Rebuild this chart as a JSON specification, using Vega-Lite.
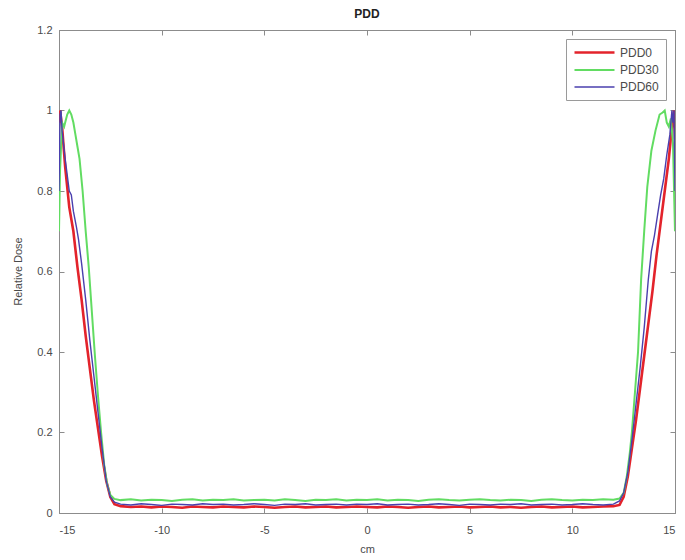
{
  "$schema": "https://vega.github.io/schema/vega-lite/v6.json",
  "width": 616,
  "height": 483,
  "autosize": {"type": "none"},
  "padding": {"left": 59, "top": 30, "right": 10, "bottom": 47},
  "background": "white",
  "title": {"text": "PDD", "fontSize": 12, "fontWeight": "bold", "font": "Liberation Sans", "color": "#222222", "offset": 3},
  "config": {
    "view": {"stroke": "#8c8c8c"},
    "axis": {
      "grid": false,
      "domainColor": "#8c8c8c",
      "tickColor": "#8c8c8c",
      "tickSize": -5,
      "labelFont": "Liberation Sans",
      "labelFontSize": 11,
      "labelColor": "#4a4a4a",
      "titleFont": "Liberation Sans",
      "titleFontSize": 11,
      "titleFontWeight": "normal",
      "titleColor": "#4a4a4a"
    },
    "legend": {
      "labelFont": "Liberation Sans",
      "labelFontSize": 12,
      "labelColor": "#4a4a4a"
    }
  },
  "datasets": {
    "pdd": [
      {"x": -15, "v": 0.97, "s": "PDD0"}, {"x": -14.95, "v": 1.0, "s": "PDD0"}, {"x": -14.85, "v": 0.96, "s": "PDD0"}, {"x": -14.7, "v": 0.86, "s": "PDD0"}, {"x": -14.5, "v": 0.76, "s": "PDD0"}, {"x": -14.3, "v": 0.70, "s": "PDD0"}, {"x": -14.1, "v": 0.61, "s": "PDD0"}, {"x": -13.9, "v": 0.53, "s": "PDD0"}, {"x": -13.7, "v": 0.44, "s": "PDD0"}, {"x": -13.5, "v": 0.36, "s": "PDD0"}, {"x": -13.3, "v": 0.28, "s": "PDD0"}, {"x": -13.1, "v": 0.21, "s": "PDD0"}, {"x": -12.9, "v": 0.14, "s": "PDD0"}, {"x": -12.7, "v": 0.08, "s": "PDD0"}, {"x": -12.5, "v": 0.04, "s": "PDD0"}, {"x": -12.3, "v": 0.022, "s": "PDD0"},
      {"x": -12, "v": 0.017, "s": "PDD0"}, {"x": -11.5, "v": 0.015, "s": "PDD0"}, {"x": -11, "v": 0.016, "s": "PDD0"}, {"x": -10.5, "v": 0.014, "s": "PDD0"}, {"x": -10, "v": 0.016, "s": "PDD0"}, {"x": -9.5, "v": 0.015, "s": "PDD0"}, {"x": -9, "v": 0.013, "s": "PDD0"}, {"x": -8.5, "v": 0.016, "s": "PDD0"}, {"x": -8, "v": 0.015, "s": "PDD0"}, {"x": -7.5, "v": 0.014, "s": "PDD0"}, {"x": -7, "v": 0.016, "s": "PDD0"}, {"x": -6.5, "v": 0.015, "s": "PDD0"}, {"x": -6, "v": 0.014, "s": "PDD0"}, {"x": -5.5, "v": 0.016, "s": "PDD0"}, {"x": -5, "v": 0.015, "s": "PDD0"}, {"x": -4.5, "v": 0.013, "s": "PDD0"}, {"x": -4, "v": 0.015, "s": "PDD0"}, {"x": -3.5, "v": 0.016, "s": "PDD0"}, {"x": -3, "v": 0.014, "s": "PDD0"}, {"x": -2.5, "v": 0.015, "s": "PDD0"}, {"x": -2, "v": 0.016, "s": "PDD0"}, {"x": -1.5, "v": 0.014, "s": "PDD0"}, {"x": -1, "v": 0.015, "s": "PDD0"}, {"x": -0.5, "v": 0.016, "s": "PDD0"}, {"x": 0, "v": 0.015, "s": "PDD0"}, {"x": 0.5, "v": 0.014, "s": "PDD0"}, {"x": 1, "v": 0.016, "s": "PDD0"}, {"x": 1.5, "v": 0.015, "s": "PDD0"}, {"x": 2, "v": 0.013, "s": "PDD0"}, {"x": 2.5, "v": 0.015, "s": "PDD0"}, {"x": 3, "v": 0.016, "s": "PDD0"}, {"x": 3.5, "v": 0.014, "s": "PDD0"}, {"x": 4, "v": 0.015, "s": "PDD0"}, {"x": 4.5, "v": 0.016, "s": "PDD0"}, {"x": 5, "v": 0.014, "s": "PDD0"}, {"x": 5.5, "v": 0.015, "s": "PDD0"}, {"x": 6, "v": 0.016, "s": "PDD0"}, {"x": 6.5, "v": 0.014, "s": "PDD0"}, {"x": 7, "v": 0.015, "s": "PDD0"}, {"x": 7.5, "v": 0.013, "s": "PDD0"}, {"x": 8, "v": 0.015, "s": "PDD0"}, {"x": 8.5, "v": 0.016, "s": "PDD0"}, {"x": 9, "v": 0.014, "s": "PDD0"}, {"x": 9.5, "v": 0.015, "s": "PDD0"}, {"x": 10, "v": 0.016, "s": "PDD0"}, {"x": 10.5, "v": 0.014, "s": "PDD0"}, {"x": 11, "v": 0.015, "s": "PDD0"}, {"x": 11.5, "v": 0.016, "s": "PDD0"}, {"x": 12, "v": 0.017, "s": "PDD0"},
      {"x": 12.3, "v": 0.02, "s": "PDD0"}, {"x": 12.5, "v": 0.04, "s": "PDD0"}, {"x": 12.7, "v": 0.09, "s": "PDD0"}, {"x": 12.9, "v": 0.16, "s": "PDD0"}, {"x": 13.1, "v": 0.23, "s": "PDD0"}, {"x": 13.3, "v": 0.31, "s": "PDD0"}, {"x": 13.5, "v": 0.39, "s": "PDD0"}, {"x": 13.7, "v": 0.47, "s": "PDD0"}, {"x": 13.9, "v": 0.55, "s": "PDD0"}, {"x": 14.1, "v": 0.64, "s": "PDD0"}, {"x": 14.3, "v": 0.72, "s": "PDD0"}, {"x": 14.5, "v": 0.80, "s": "PDD0"}, {"x": 14.7, "v": 0.88, "s": "PDD0"}, {"x": 14.85, "v": 0.96, "s": "PDD0"}, {"x": 14.95, "v": 1.0, "s": "PDD0"}, {"x": 15, "v": 0.93, "s": "PDD0"},

      {"x": -15, "v": 0.70, "s": "PDD30"}, {"x": -14.95, "v": 0.85, "s": "PDD30"}, {"x": -14.85, "v": 0.97, "s": "PDD30"}, {"x": -14.75, "v": 0.96, "s": "PDD30"}, {"x": -14.6, "v": 0.99, "s": "PDD30"}, {"x": -14.5, "v": 1.0, "s": "PDD30"}, {"x": -14.4, "v": 0.99, "s": "PDD30"}, {"x": -14.3, "v": 0.97, "s": "PDD30"}, {"x": -14.2, "v": 0.94, "s": "PDD30"}, {"x": -14.1, "v": 0.91, "s": "PDD30"}, {"x": -14.0, "v": 0.88, "s": "PDD30"}, {"x": -13.85, "v": 0.80, "s": "PDD30"}, {"x": -13.7, "v": 0.70, "s": "PDD30"}, {"x": -13.55, "v": 0.61, "s": "PDD30"}, {"x": -13.4, "v": 0.50, "s": "PDD30"}, {"x": -13.25, "v": 0.39, "s": "PDD30"}, {"x": -13.1, "v": 0.29, "s": "PDD30"}, {"x": -12.95, "v": 0.20, "s": "PDD30"}, {"x": -12.8, "v": 0.12, "s": "PDD30"}, {"x": -12.65, "v": 0.07, "s": "PDD30"}, {"x": -12.5, "v": 0.045, "s": "PDD30"}, {"x": -12.3, "v": 0.035, "s": "PDD30"},
      {"x": -12, "v": 0.032, "s": "PDD30"}, {"x": -11.5, "v": 0.034, "s": "PDD30"}, {"x": -11, "v": 0.031, "s": "PDD30"}, {"x": -10.5, "v": 0.033, "s": "PDD30"}, {"x": -10, "v": 0.032, "s": "PDD30"}, {"x": -9.5, "v": 0.030, "s": "PDD30"}, {"x": -9, "v": 0.033, "s": "PDD30"}, {"x": -8.5, "v": 0.034, "s": "PDD30"}, {"x": -8, "v": 0.031, "s": "PDD30"}, {"x": -7.5, "v": 0.033, "s": "PDD30"}, {"x": -7, "v": 0.032, "s": "PDD30"}, {"x": -6.5, "v": 0.034, "s": "PDD30"}, {"x": -6, "v": 0.031, "s": "PDD30"}, {"x": -5.5, "v": 0.032, "s": "PDD30"}, {"x": -5, "v": 0.033, "s": "PDD30"}, {"x": -4.5, "v": 0.031, "s": "PDD30"}, {"x": -4, "v": 0.034, "s": "PDD30"}, {"x": -3.5, "v": 0.032, "s": "PDD30"}, {"x": -3, "v": 0.030, "s": "PDD30"}, {"x": -2.5, "v": 0.033, "s": "PDD30"}, {"x": -2, "v": 0.032, "s": "PDD30"}, {"x": -1.5, "v": 0.034, "s": "PDD30"}, {"x": -1, "v": 0.031, "s": "PDD30"}, {"x": -0.5, "v": 0.033, "s": "PDD30"}, {"x": 0, "v": 0.032, "s": "PDD30"}, {"x": 0.5, "v": 0.034, "s": "PDD30"}, {"x": 1, "v": 0.031, "s": "PDD30"}, {"x": 1.5, "v": 0.033, "s": "PDD30"}, {"x": 2, "v": 0.032, "s": "PDD30"}, {"x": 2.5, "v": 0.030, "s": "PDD30"}, {"x": 3, "v": 0.033, "s": "PDD30"}, {"x": 3.5, "v": 0.034, "s": "PDD30"}, {"x": 4, "v": 0.032, "s": "PDD30"}, {"x": 4.5, "v": 0.031, "s": "PDD30"}, {"x": 5, "v": 0.033, "s": "PDD30"}, {"x": 5.5, "v": 0.034, "s": "PDD30"}, {"x": 6, "v": 0.032, "s": "PDD30"}, {"x": 6.5, "v": 0.031, "s": "PDD30"}, {"x": 7, "v": 0.033, "s": "PDD30"}, {"x": 7.5, "v": 0.032, "s": "PDD30"}, {"x": 8, "v": 0.030, "s": "PDD30"}, {"x": 8.5, "v": 0.033, "s": "PDD30"}, {"x": 9, "v": 0.034, "s": "PDD30"}, {"x": 9.5, "v": 0.032, "s": "PDD30"}, {"x": 10, "v": 0.031, "s": "PDD30"}, {"x": 10.5, "v": 0.033, "s": "PDD30"}, {"x": 11, "v": 0.032, "s": "PDD30"}, {"x": 11.5, "v": 0.034, "s": "PDD30"}, {"x": 12, "v": 0.033, "s": "PDD30"},
      {"x": 12.3, "v": 0.036, "s": "PDD30"}, {"x": 12.5, "v": 0.05, "s": "PDD30"}, {"x": 12.65, "v": 0.09, "s": "PDD30"}, {"x": 12.8, "v": 0.15, "s": "PDD30"}, {"x": 12.9, "v": 0.20, "s": "PDD30"}, {"x": 13.05, "v": 0.30, "s": "PDD30"}, {"x": 13.2, "v": 0.40, "s": "PDD30"}, {"x": 13.35, "v": 0.58, "s": "PDD30"}, {"x": 13.5, "v": 0.70, "s": "PDD30"}, {"x": 13.65, "v": 0.81, "s": "PDD30"}, {"x": 13.85, "v": 0.90, "s": "PDD30"}, {"x": 14.05, "v": 0.95, "s": "PDD30"}, {"x": 14.25, "v": 0.99, "s": "PDD30"}, {"x": 14.4, "v": 0.995, "s": "PDD30"}, {"x": 14.5, "v": 1.0, "s": "PDD30"}, {"x": 14.6, "v": 0.97, "s": "PDD30"}, {"x": 14.7, "v": 0.96, "s": "PDD30"}, {"x": 14.8, "v": 0.98, "s": "PDD30"}, {"x": 14.9, "v": 0.92, "s": "PDD30"}, {"x": 15, "v": 0.70, "s": "PDD30"},

      {"x": -15, "v": 0.80, "s": "PDD60"}, {"x": -14.95, "v": 0.99, "s": "PDD60"}, {"x": -14.9, "v": 1.0, "s": "PDD60"}, {"x": -14.85, "v": 0.95, "s": "PDD60"}, {"x": -14.7, "v": 0.88, "s": "PDD60"}, {"x": -14.5, "v": 0.80, "s": "PDD60"}, {"x": -14.4, "v": 0.79, "s": "PDD60"}, {"x": -14.3, "v": 0.75, "s": "PDD60"}, {"x": -14.15, "v": 0.71, "s": "PDD60"}, {"x": -14.05, "v": 0.68, "s": "PDD60"}, {"x": -13.9, "v": 0.62, "s": "PDD60"}, {"x": -13.7, "v": 0.53, "s": "PDD60"}, {"x": -13.5, "v": 0.43, "s": "PDD60"}, {"x": -13.3, "v": 0.34, "s": "PDD60"}, {"x": -13.1, "v": 0.25, "s": "PDD60"}, {"x": -12.9, "v": 0.16, "s": "PDD60"}, {"x": -12.7, "v": 0.08, "s": "PDD60"}, {"x": -12.5, "v": 0.04, "s": "PDD60"}, {"x": -12.3, "v": 0.027, "s": "PDD60"},
      {"x": -12, "v": 0.022, "s": "PDD60"}, {"x": -11.5, "v": 0.020, "s": "PDD60"}, {"x": -11, "v": 0.023, "s": "PDD60"}, {"x": -10.5, "v": 0.021, "s": "PDD60"}, {"x": -10, "v": 0.019, "s": "PDD60"}, {"x": -9.5, "v": 0.022, "s": "PDD60"}, {"x": -9, "v": 0.021, "s": "PDD60"}, {"x": -8.5, "v": 0.020, "s": "PDD60"}, {"x": -8, "v": 0.023, "s": "PDD60"}, {"x": -7.5, "v": 0.021, "s": "PDD60"}, {"x": -7, "v": 0.022, "s": "PDD60"}, {"x": -6.5, "v": 0.020, "s": "PDD60"}, {"x": -6, "v": 0.021, "s": "PDD60"}, {"x": -5.5, "v": 0.023, "s": "PDD60"}, {"x": -5, "v": 0.021, "s": "PDD60"}, {"x": -4.5, "v": 0.019, "s": "PDD60"}, {"x": -4, "v": 0.022, "s": "PDD60"}, {"x": -3.5, "v": 0.021, "s": "PDD60"}, {"x": -3, "v": 0.023, "s": "PDD60"}, {"x": -2.5, "v": 0.020, "s": "PDD60"}, {"x": -2, "v": 0.021, "s": "PDD60"}, {"x": -1.5, "v": 0.022, "s": "PDD60"}, {"x": -1, "v": 0.020, "s": "PDD60"}, {"x": -0.5, "v": 0.022, "s": "PDD60"}, {"x": 0, "v": 0.021, "s": "PDD60"}, {"x": 0.5, "v": 0.023, "s": "PDD60"}, {"x": 1, "v": 0.020, "s": "PDD60"}, {"x": 1.5, "v": 0.021, "s": "PDD60"}, {"x": 2, "v": 0.022, "s": "PDD60"}, {"x": 2.5, "v": 0.020, "s": "PDD60"}, {"x": 3, "v": 0.021, "s": "PDD60"}, {"x": 3.5, "v": 0.023, "s": "PDD60"}, {"x": 4, "v": 0.021, "s": "PDD60"}, {"x": 4.5, "v": 0.019, "s": "PDD60"}, {"x": 5, "v": 0.022, "s": "PDD60"}, {"x": 5.5, "v": 0.021, "s": "PDD60"}, {"x": 6, "v": 0.020, "s": "PDD60"}, {"x": 6.5, "v": 0.022, "s": "PDD60"}, {"x": 7, "v": 0.021, "s": "PDD60"}, {"x": 7.5, "v": 0.023, "s": "PDD60"}, {"x": 8, "v": 0.020, "s": "PDD60"}, {"x": 8.5, "v": 0.021, "s": "PDD60"}, {"x": 9, "v": 0.022, "s": "PDD60"}, {"x": 9.5, "v": 0.020, "s": "PDD60"}, {"x": 10, "v": 0.021, "s": "PDD60"}, {"x": 10.5, "v": 0.023, "s": "PDD60"}, {"x": 11, "v": 0.021, "s": "PDD60"}, {"x": 11.5, "v": 0.020, "s": "PDD60"}, {"x": 12, "v": 0.022, "s": "PDD60"},
      {"x": 12.3, "v": 0.03, "s": "PDD60"}, {"x": 12.5, "v": 0.05, "s": "PDD60"}, {"x": 12.7, "v": 0.10, "s": "PDD60"}, {"x": 12.9, "v": 0.18, "s": "PDD60"}, {"x": 13.1, "v": 0.27, "s": "PDD60"}, {"x": 13.3, "v": 0.36, "s": "PDD60"}, {"x": 13.5, "v": 0.46, "s": "PDD60"}, {"x": 13.7, "v": 0.58, "s": "PDD60"}, {"x": 13.85, "v": 0.65, "s": "PDD60"}, {"x": 14.0, "v": 0.69, "s": "PDD60"}, {"x": 14.15, "v": 0.74, "s": "PDD60"}, {"x": 14.3, "v": 0.79, "s": "PDD60"}, {"x": 14.45, "v": 0.83, "s": "PDD60"}, {"x": 14.6, "v": 0.89, "s": "PDD60"}, {"x": 14.75, "v": 0.94, "s": "PDD60"}, {"x": 14.85, "v": 1.0, "s": "PDD60"}, {"x": 14.9, "v": 0.97, "s": "PDD60"}, {"x": 14.95, "v": 1.0, "s": "PDD60"}, {"x": 15, "v": 0.80, "s": "PDD60"}
    ]
  },
  "data": {"name": "pdd"},
  "resolve": {"axis": {"x": "independent", "y": "independent"}},
  "layer": [
    {
      "mark": {"type": "line", "clip": true},
      "encoding": {
        "x": {"field": "x", "type": "quantitative", "scale": {"domain": [-15, 15], "nice": false, "zero": false},
              "axis": {"orient": "bottom", "values": [-15, -10, -5, 0, 5, 10, 15], "labelExpr": "'' + datum.value", "title": "cm", "labelPadding": 16, "titleBaseline": "middle", "titleY": 36}},
        "y": {"field": "v", "type": "quantitative", "scale": {"domain": [0, 1.2], "nice": false},
              "axis": {"orient": "left", "values": [0, 0.2, 0.4, 0.6, 0.8, 1, 1.2], "format": "~g", "title": "Relative Dose", "labelPadding": 12, "titleBaseline": "middle", "titleX": -41, "titleY": 241}},
        "color": {"field": "s", "type": "nominal", "sort": ["PDD0", "PDD30", "PDD60"],
                  "scale": {"domain": ["PDD0", "PDD30", "PDD60"], "range": ["#e3232b", "#62dc62", "#4a3fae"]},
                  "legend": {"title": null, "orient": "none", "legendX": 507, "legendY": 9, "strokeColor": "#9a9a9a", "fillColor": "white", "padding": 7, "symbolType": "M-1,0H7", "symbolSize": 100, "labelOffset": 34, "rowPadding": 5}},
        "strokeWidth": {"field": "s", "type": "nominal", "sort": ["PDD0", "PDD30", "PDD60"],
                        "scale": {"domain": ["PDD0", "PDD30", "PDD60"], "range": [2.6, 1.4, 1.4]},
                        "legend": {"title": null, "orient": "none", "legendX": 507, "legendY": 9, "strokeColor": "#9a9a9a", "fillColor": "white", "padding": 7, "symbolType": "M-1,0H7", "symbolSize": 100, "labelOffset": 34, "rowPadding": 5}}
      }
    },
    {
      "mark": {"type": "line", "opacity": 0},
      "encoding": {
        "x": {"field": "x", "type": "quantitative", "scale": {"domain": [-15, 15], "nice": false, "zero": false},
              "axis": {"orient": "top", "values": [-15, -10, -5, 0, 5, 10, 15], "labels": false, "title": null}},
        "y": {"field": "v", "type": "quantitative", "scale": {"domain": [0, 1.2], "nice": false},
              "axis": {"orient": "right", "values": [0, 0.2, 0.4, 0.6, 0.8, 1, 1.2], "labels": false, "title": null}},
        "detail": {"field": "s"}
      }
    }
  ]
}
